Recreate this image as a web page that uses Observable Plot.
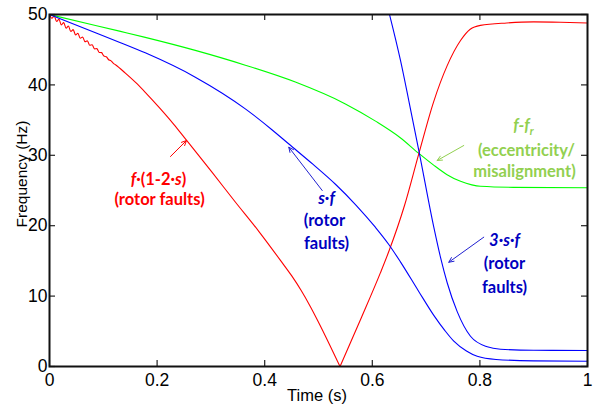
<!DOCTYPE html>
<html><head><meta charset="utf-8">
<script src="https://cdn.jsdelivr.net/npm/d3@7"></script>
<script src="https://cdn.jsdelivr.net/npm/@observablehq/plot@0.6"></script>
<style>body{margin:0;background:#fff}</style>
</head><body><div id="chart"></div>
<script>
// ---- tick values / labels ----
const xTicks = [0, 0.2, 0.4, 0.6, 0.8, 1];
const xTickLabels = ["0", "0.2", "0.4", "0.6", "0.8", "1"];
const yTicks = [0, 10, 20, 30, 40, 50];
const yTickLabels = ["0", "10", "20", "30", "40", "50"];
const xTitle = "Time (s)";
const yTitle = "Frequency (Hz)";

// ---- series: [time (s), frequency (Hz)] ----
const redFalling = [ // f·(1-2·s), before the zero crossing (with start-up ripple)
  [0,50],[0.0044,49.47],[0.0088,49.79],[0.0132,49.01],[0.0176,49.32],[0.022,48.53],[0.0264,48.84],
  [0.0308,48.05],[0.0352,48.36],[0.0396,47.58],[0.044,47.85],[0.0484,47.11],[0.0528,47.33],
  [0.0572,46.62],[0.0616,46.8],[0.066,46.13],[0.0704,46.26],[0.0748,45.63],[0.0792,45.71],
  [0.0836,45.12],[0.088,45.15],[0.0924,44.61],[0.0968,44.58],[0.1012,44.09],[0.1056,44.0],
  [0.11,43.57],[0.1144,43.42],[0.1188,43.06],[0.1232,42.83],
  [0.141,41.67],[0.16,40.35],[0.178,38.95],[0.205,36.7],[0.231,34.4],[0.253,32.3],[0.302,27.6],
  [0.345,23.4],[0.389,19.2],[0.43,15.0],[0.45,12.9],[0.467,10.9],[0.485,8.5],[0.5,6.3],[0.54,0]
];
const redRising = [ // f·(1-2·s), after the zero crossing
  [0.54,0],[0.58,7.0],[0.615,13.3],[0.631,16.4],[0.66,22.9],[0.686,30.1],[0.714,37.6],[0.739,42.7],
  [0.764,46.3],[0.782,47.9],[0.801,48.45],[0.85,48.8],[0.9,48.95],[0.95,48.9],[1,48.8]
];
const blueSeries = [ // s·f
  [0,50],[0.0855,47.4],[0.132,46.0],[0.178,44.55],[0.271,41.1],[0.364,36.6],[0.414,33.6],
  [0.445,31.6],[0.49,28.7],[0.532,25.85],[0.57,22.9],[0.606,19.75],[0.631,17.3],[0.652,14.9],
  [0.686,10.7],[0.714,7.3],[0.735,5.1],[0.7515,3.6],[0.775,2.2],[0.795,1.45],[0.83,1.0],
  [0.9,0.8],[1,0.75]
];
const blue3Series = [ // 3·s·f
  [0.632,50],[0.6524,43.47],[0.6678,37.78],[0.6877,30.21],[0.7143,19.79],[0.7268,15.5],
  [0.7392,11.9],[0.7578,7.8],[0.7825,4.3],[0.8136,2.8],[0.8383,2.45],[0.9,2.3],[1,2.27]
];
const greenSeries = [ // f-fr
  [0,50],[0.0855,48.45],[0.132,47.6],[0.178,46.75],[0.271,44.9],[0.364,42.8],[0.457,40.4],
  [0.55,37.3],[0.606,34.85],[0.652,32.5],[0.686,30.3],[0.714,28.6],[0.739,27.25],[0.764,26.3],
  [0.785,25.8],[0.801,25.6],[0.862,25.45],[1,25.4]
];

// ---- annotations (data coordinates) ----
const labelText = ["f·(1-2·s)", "(rotor faults)", "s·f", "(rotor", "faults)", "f-fr", "(eccentricity/", "misalignment)", "3·s·f", "(rotor", "faults)"];
const labelX = [0.2026, 0.2045, 0.5149, 0.511, 0.5149, 0.881, 0.8866, 0.8829, 0.8457, 0.8457, 0.8457];
const labelY = [25.85, 22.87, 23.15, 19.89, 16.62, 33.52, 29.83, 26.85, 17.05, 13.78, 10.51];
const labelColor = ["#ff0000","#ff0000","#0000c0","#0000c0","#0000c0","#92d050","#92d050","#92d050","#0000c0","#0000c0","#0000c0"];

const arrowFrom = [[0.2249, 29.83], [0.5069, 25.0], [0.770, 31.39], [0.8072, 18.37]];
const arrowTo = [[0.2546, 32.1], [0.4448, 31.15], [0.7206, 29.26], [0.7422, 14.81]];
const arrowColor = ["#ff0000", "#2020d0", "#92d050", "#2020d0"];

const labels = labelText.map((text, i) => ({text, x: labelX[i], y: labelY[i], color: labelColor[i]}));
const arrows = arrowFrom.map((a, i) => ({x1: a[0], y1: a[1], x2: arrowTo[i][0], y2: arrowTo[i][1], color: arrowColor[i]}));

const px = d => d[0], py = d => d[1];
const W = 604, H = 408, mT = 14, mR = 17, mB = 42, mL = 49;
const plotW = W - mL - mR, plotH = H - mT - mB, tickLen = 6;

const lineOpts = (stroke) => ({x: px, y: py, stroke, strokeWidth: 1.1, curve: "monotone-x"});

const chart = Plot.plot({
  width: W, height: H,
  marginTop: mT, marginRight: mR, marginBottom: mB, marginLeft: mL,
  style: {fontFamily: "'Liberation Sans Narrow','Arial Narrow','Liberation Sans',Arial,sans-serif", fontSize: "17.5px", background: "#fff", color: "#000", overflow: "visible"},
  x: {domain: [0, 1]},
  y: {domain: [0, 50]},
  marks: [
    Plot.line(greenSeries, lineOpts("#00ff00")),
    Plot.line(redFalling, lineOpts("#ff0000")),
    Plot.line(redRising, lineOpts("#ff0000")),
    Plot.line(blueSeries, lineOpts("#0000ff")),
    Plot.line(blue3Series, lineOpts("#0000ff")),
    Plot.axisX(xTicks, {anchor: "bottom", tickSize: 0, tickPadding: 7, tickFormat: d => xTickLabels[xTicks.indexOf(d)], label: null}),
    Plot.axisY(yTicks, {anchor: "left", tickSize: 0, tickPadding: 2, tickFormat: d => yTickLabels[yTicks.indexOf(d)], label: null}),
    // inward tick marks on all four sides
    Plot.ruleX(xTicks, {stroke: "#222", strokeWidth: 1.2, insetTop: plotH - tickLen}),
    Plot.ruleX(xTicks, {stroke: "#222", strokeWidth: 1.2, insetBottom: plotH - tickLen}),
    Plot.ruleY(yTicks, {stroke: "#222", strokeWidth: 1.2, insetRight: plotW - tickLen}),
    Plot.ruleY(yTicks, {stroke: "#222", strokeWidth: 1.2, insetLeft: plotW - tickLen}),
    Plot.frame({stroke: "#111", strokeWidth: 2}),
    Plot.arrow(arrows, {x1: "x1", y1: "y1", x2: "x2", y2: "y2", stroke: "color", strokeWidth: 1, headLength: 8, headAngle: 50}),
    Plot.text(labels, {x: "x", y: "y", text: "text", fill: "color", fontFamily: "Lato, 'Open Sans', sans-serif", fontWeight: "bold", fontSize: 16.5, lineAnchor: "bottom", textAnchor: "middle"})
  ]
});

// rich formatting of formula labels
const rich = {
  "f·(1-2·s)": '<tspan font-style="italic">f</tspan>·(1-2·<tspan font-style="italic">s</tspan>)',
  "s·f": '<tspan font-style="italic">s·f</tspan>',
  "3·s·f": '<tspan font-style="italic">3·s·f</tspan>',
  "f-fr": '<tspan font-style="italic">f-f</tspan><tspan font-style="italic" font-size="11" dy="4">r</tspan>'
};
d3.select(chart).selectAll("text").each(function() {
  const t = this.textContent;
  if (rich[t]) this.innerHTML = rich[t];
});

// axis titles
const svg = d3.select(chart);
svg.append("text").attr("x", 317).attr("y", 400.5).attr("text-anchor", "middle")
  .attr("font-size", 16.5).attr("fill", "#000").text(xTitle);
svg.append("text").attr("transform", "translate(26.5,174) rotate(-90)").attr("text-anchor", "middle")
  .attr("font-family", "'Liberation Sans',Arial,sans-serif").attr("font-size", 15.5).attr("fill", "#000").text(yTitle);

document.getElementById("chart").append(chart);
</script>
</body></html>
